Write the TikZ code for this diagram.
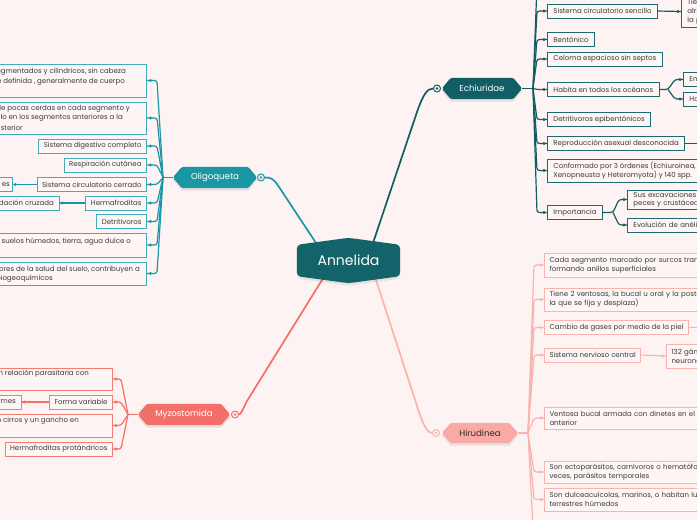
\documentclass[tikz,border=0pt]{standalone}
\usepackage{fontspec}
\setmainfont{Poppins}
\usetikzlibrary{calc}
\pgfdeclarelayer{bgl}
\pgfdeclarelayer{lines}
\pgfdeclarelayer{shapes}
\pgfsetlayers{bgl,lines,shapes,main}
\definecolor{bgc}{HTML}{FDF3F2}
\definecolor{boxbg}{HTML}{FEF6F5}
\definecolor{txt}{HTML}{3A3A3A}
\definecolor{annc}{HTML}{13636B}
\definecolor{oligc}{HTML}{1B97A4}
\definecolor{oligl}{HTML}{3FAEBB}
\definecolor{echc}{HTML}{125E66}
\definecolor{echl}{HTML}{1D6A72}
\definecolor{myzc}{HTML}{F3706A}
\definecolor{myzl}{HTML}{F47C75}
\definecolor{hirc}{HTML}{F9AAA4}
\definecolor{hirl}{HTML}{F9B4AF}
\definecolor{hirtxt}{HTML}{3B2B2B}
\tikzset{
  fs/.style={font=\fontsize{7}{8.8}\selectfont},
  cbox/.style={draw, line width=1pt, fill=boxbg, text=txt, fs, inner xsep=5pt, inner ysep=0pt, minimum height=14pt, align=left},
  obox/.style={cbox, draw=oligl},
  ebox/.style={cbox, draw=echl, line width=0.9pt, inner xsep=6pt},
  mbox/.style={cbox, draw=myzl},
  hbox/.style={cbox, draw=hirl},
  ftxt/.style={text=txt, fs, inner sep=0pt},
  cat/.style={minimum width=#1, minimum height=21pt, inner sep=0pt, font=\fontsize{8.6}{10}\selectfont},
  markc/.style={circle, draw=#1, fill=bgc, line width=1pt, minimum size=7pt, inner sep=0pt},
  mainline/.style={line width=1.7pt},
  subline/.style={line width=1.2pt, rounded corners=2.5pt},
}
\newcommand\HexFill[3]{%
  \begin{pgfonlayer}{shapes}
  \fill[black,opacity=0.08] ($(#1.west)+(0,2.5)$) -- ($(#1.north west)+(#3,2.5)$) -- ($(#1.north east)+(-#3,2.5)$) -- ($(#1.east)+(0,2.5)$) -- ($(#1.south east)+(-#3,2.5)$) -- ($(#1.south west)+(#3,2.5)$) -- cycle;
  \fill[#2, rounded corners=1.5pt] (#1.west) -- ($(#1.north west)+(#3,0)$) -- ($(#1.north east)+(-#3,0)$) -- (#1.east) -- ($(#1.south east)+(-#3,0)$) -- ($(#1.south west)+(#3,0)$) -- cycle;
  \end{pgfonlayer}}
\begin{document}
\begin{tikzpicture}[x=1pt,y=-1pt]
\begin{pgfonlayer}{bgl}
\fill[bgc] (0,0) rectangle (697,520);
\end{pgfonlayer}
\useasboundingbox (0,0) rectangle (697,520);
\clip (0,0) rectangle (697,520);

% ---------- central node
\node[minimum width=103pt, minimum height=45pt, inner sep=0pt, text=white, font=\fontsize{14}{16}\selectfont] (ann) at (348.5,260.5) {Annelida};
\begin{pgfonlayer}{shapes}
\fill[black,opacity=0.08,rounded corners=4pt] ($(ann.north west)+(0,9.5)$) -- ($(ann.north)+(0,2.5)$) -- ($(ann.north east)+(0,9.5)$) -- ($(ann.south east)+(0,-4.5)$) -- ($(ann.south)+(0,2.5)$) -- ($(ann.south west)+(0,-4.5)$) -- cycle;
\fill[annc, rounded corners=4pt] ($(ann.north west)+(0,7)$) -- (ann.north) -- ($(ann.north east)+(0,7)$) -- ($(ann.south east)+(0,-7)$) -- (ann.south) -- ($(ann.south west)+(0,-7)$) -- cycle;
\end{pgfonlayer}

% ---------- Oligoqueta
\node[cat=84pt, text=white] (olig) at (215,177.5) {Oligoqueta};
\HexFill{olig}{oligc}{9}
\node[markc=oligc] (om) at (261,177.5) {};
\fill[oligc] (om) circle (1.3);
\coordinate (oj) at (163,177.5);

\node[obox, minimum width=175pt, minimum height=33pt, anchor=east] (ob1) at (147,80.5) {};
\node[ftxt, anchor=east] (ob1t1) at (126,72) {segmentados y cilíndricos, sin cabeza};
\node[ftxt, anchor=east] (ob1t2) at (125,82) {te definida , generalmente de cuerpo};
\node[obox, minimum width=175pt, minimum height=32pt, anchor=east] (ob2) at (147,118) {};
\node[ftxt, anchor=east] (ob2t1) at (130,109) {de pocas cerdas en cada segmento y};
\node[ftxt, anchor=east] (ob2t2) at (123,118) {elo en los segmentos anteriores a la};
\node[ftxt, anchor=east] (ob2t3) at (23,127.5) {sterior};
\node[obox, anchor=east] (ob3) at (147,146) {Sistema digestivo completo};
\node[obox, anchor=east] (ob4) at (147,165) {Respiración cutánea};
\node[obox, anchor=east] (ob5) at (147,184.5) {Sistema circulatorio cerrado};
\node[obox, anchor=east, minimum width=40pt] (ob5a) at (13,184.5) {};
\node[ftxt, anchor=east] (ob5at) at (10,184.5) {es};
\node[obox, anchor=east] (ob6) at (147,203) {Hermafroditas};
\node[obox, anchor=east, minimum width=90pt] (ob6a) at (60,203) {};
\node[ftxt, anchor=east] (ob6at) at (54,203) {dación cruzada};
\node[obox, anchor=east] (ob7) at (147,221.5) {Detritivoros};
\node[obox, minimum width=175pt, minimum height=24pt, anchor=east] (ob8) at (147,245) {};
\node[ftxt, anchor=east] (ob8t) at (131,242) {n suelos húmedos, tierra, agua dulce o};
\node[obox, minimum width=175pt, minimum height=23pt, anchor=east] (ob9) at (147,273.5) {};
\node[ftxt, anchor=east] (ob9t1) at (140,270) {dores de la salud del suelo, contribuyen a};
\node[ftxt, anchor=east] (ob9t2) at (53,279) {biogeoquímicos};

% ---------- Myzostomida
\node[cat=92pt, text=white] (myz) at (184,414.5) {Myzostomida};
\HexFill{myz}{myzc}{9}
\node[markc=myzc] (mm) at (235,414.5) {};
\fill[myzc] (mm) circle (1.3);
\coordinate (mj) at (128,414.5);
\node[mbox, minimum width=150pt, minimum height=22pt, anchor=east] (m1) at (113,379) {};
\node[ftxt, anchor=east] (m1t) at (89,374) {n relación parasitaria con};
\node[mbox, anchor=east] (m2) at (113,402) {Forma variable};
\node[mbox, anchor=east, minimum width=40pt] (m2a) at (22,402) {};
\node[ftxt, anchor=east] (m2at) at (16,402) {rmes};
\node[mbox, minimum width=150pt, minimum height=23pt, anchor=east] (m3) at (113,425.5) {};
\node[ftxt, anchor=east] (m3t) at (79,421) {n cirros y un gancho en};
\node[mbox, anchor=east] (m4) at (113,449) {Hermafroditas protándricos};

% ---------- Echiuridae
\node[cat=80pt, text=white] (ech) at (482,88.5) {Echiuridae};
\HexFill{ech}{echc}{9}
\node[markc=echc] (em) at (437,88.5) {};
\fill[echc] (em) circle (1.3);
\coordinate (ej) at (533,88.5);
\coordinate (e0) at (537,-15);
\node[ebox, anchor=west] (e1) at (547,11) {Sistema circulatorio sencillo};
\node[ebox, anchor=west, text width=40pt, minimum height=31pt, font=\fontsize{7}{9}\selectfont] (e1a) at (681,11.5) {Tie\\alre\\la p};
\node[ebox, anchor=west] (e2) at (547,39.5) {Bentónico};
\node[ebox, anchor=west] (e3) at (547,59) {Celoma espacioso sin septos};
\node[ebox, anchor=west] (e4) at (547,89.5) {Habita en todos los océanos};
\node[ebox, anchor=west, text width=30pt] (e4a) at (683,79.5) {En};
\node[ebox, anchor=west, text width=30pt] (e4b) at (683,99) {Ho};
\coordinate (e4j) at (668,89.5);
\node[ebox, anchor=west] (e5) at (547,119.5) {Detritivoros epibentónicos};
\node[ebox, anchor=west] (e6) at (547,143.5) {Reproducción asexual desconocida};
\coordinate (e6a) at (720,143.5);
\node[ebox, anchor=west, minimum height=23pt] (e7) at (547,170.5) {Conformado por 3 órdenes (Echiuroinea,\\Xenopneusta y Heteromyota) y 140 spp.};
\node[ebox, anchor=west] (e8) at (547,212.5) {Importancia};
\node[ebox, anchor=west, text width=90pt, minimum height=19pt, font=\fontsize{7}{8.2}\selectfont] (e8a) at (627,199.5) {Sus excavaciones e\\peces y crustáceos};
\node[ebox, anchor=west, text width=90pt] (e8b) at (627,225) {Evolución de anélid};
\coordinate (e8j) at (613,212.5);

% ---------- Hirudinea
\node[cat=76pt, minimum height=20pt, text=hirtxt] (hir) at (480,433) {Hirudinea};
\HexFill{hir}{hirc}{9}
\node[markc=hirl] (hm) at (436,433) {};
\fill[hirl] (hm) circle (1.3);
\coordinate (hj) at (528,433);
\node[hbox, anchor=west, text width=220pt, minimum height=24pt] (h1) at (544,265) {Cada segmento marcado por surcos transv\\formando anillos superficiales};
\node[hbox, anchor=west, text width=220pt, minimum height=23pt] (h2) at (544,299.5) {Tiene 2 ventosas, la bucal u oral y la poster\\la que se fija y desplaza)};
\node[hbox, anchor=west] (h3) at (544,327.5) {Cambio de gases por medio de la piel};
\coordinate (h3a) at (720,327.5);
\node[hbox, anchor=west] (h4) at (544,355) {Sistema nervioso central};
\node[hbox, anchor=west, text width=60pt, minimum height=24pt] (h4a) at (666,356) {132 gán\\neurona};
\node[hbox, anchor=west, text width=220pt, minimum height=22pt] (h5) at (544,418) {Ventosa bucal armada con dinetes en el ext\\anterior};
\node[hbox, anchor=west, text width=220pt, minimum height=22pt] (h6) at (544,472) {Son ectoparásitos, carnívoros o hematófag\\veces, parásitos temporales};
\node[hbox, anchor=west, text width=220pt, minimum height=23pt] (h7) at (544,499.5) {Son dulceacuícolas, marinos, o habitan luga\\terrestres húmedos};
\coordinate (h8) at (534,545);

% ---------- connectors
\begin{pgfonlayer}{lines}
% main
\draw[oligc, mainline] (ann.center) -- (318,246) -- (281,190) .. controls (274,179) and (272,177.5) .. (om.east);
\draw[echc, mainline] (ann.center) -- (372,246) -- (417,112) .. controls (423,95) and (427,88.5) .. (em.west);
\draw[myzc, mainline] (ann.center) -- (322,280) -- (247,401) .. controls (243,409) and (241,414.5) .. (mm.east);
\draw[hirl, mainline] (ann.center) -- (376,280) -- (419,412) .. controls (424,427) and (428,433) .. (hm.west);
% Oligoqueta
\draw[oligc, subline] (olig.west) -- (oj);
\foreach \c in {ob1,ob2,ob3,ob4,ob5,ob6,ob7,ob8,ob9}{
  \draw[oligc, subline] (oj) -- ($(\c.east)+(10,0)$) -- (\c.east);
}
\draw[oligc, subline] (ob5.west) -- (ob5a.east);
\draw[oligc, subline] (ob6.west) -- (ob6a.east);
% Myzostomida
\draw[myzc, subline] (myz.west) -- (mj);
\foreach \c in {m1,m2,m3,m4}{
  \draw[myzc, subline] (mj) -- ($(\c.east)+(8,0)$) -- (\c.east);
}
\draw[myzc, subline] (m2.west) -- (m2a.east);
% Echiuridae
\draw[echc, subline] (ech.east) -- (ej);
\draw[echc, subline] (ej) -- (e0);
\foreach \c in {e1,e2,e3,e4,e5,e6,e7,e8}{
  \draw[echc, subline] (ej) -- ($(\c.west)+(-10,0)$) -- (\c.west);
}
\draw[echc, subline] (e1.east) -- (e1a.west);
\draw[echc, subline] (e4.east) -- (e4j) -- ($(e4a.west)+(-8,0)$) -- (e4a.west);
\draw[echc, subline] (e4j) -- ($(e4b.west)+(-8,0)$) -- (e4b.west);
\draw[echc, subline] (e6.east) -- (e6a);
\draw[echc, subline] (e8.east) -- (e8j) -- ($(e8a.west)+(-8,0)$) -- (e8a.west);
\draw[echc, subline] (e8j) -- ($(e8b.west)+(-8,0)$) -- (e8b.west);
% Hirudinea
\draw[hirl, subline] (hir.east) -- (hj);
\draw[hirl, subline] (hj) -- (h8);
\foreach \c in {h1,h2,h3,h4,h5,h6,h7}{
  \draw[hirl, subline] (hj) -- ($(\c.west)+(-10,0)$) -- (\c.west);
}
\draw[hirl, subline] (h3.east) -- (h3a);
\draw[hirl, subline] (h4.east) -- (h4a.west);
\end{pgfonlayer}

% ---------- dots
\foreach \c in {ob1,ob2,ob3,ob4,ob5,ob6,ob7,ob8,ob9}{\fill[oligc] ($(\c.east)+(3.5,0)$) circle (1.6);}
\foreach \c in {ob5a,ob6a}{\fill[oligc] ($(\c.east)+(2.5,0)$) circle (1.6);}
\foreach \c in {m1,m2,m3,m4}{\fill[myzc] ($(\c.east)+(3,0)$) circle (1.6);}
\fill[myzc] ($(m2a.east)+(2.5,0)$) circle (1.6);
\foreach \c in {e1,e2,e3,e4,e5,e6,e7,e8,e1a,e4a,e4b,e8a,e8b}{\fill[echc] ($(\c.west)+(-3,0)$) circle (1.6);}
\foreach \c in {h1,h2,h3,h4,h5,h6,h7,h4a}{\fill[hirl] ($(\c.west)+(-3,0)$) circle (1.6);}
\end{tikzpicture}
\end{document}
